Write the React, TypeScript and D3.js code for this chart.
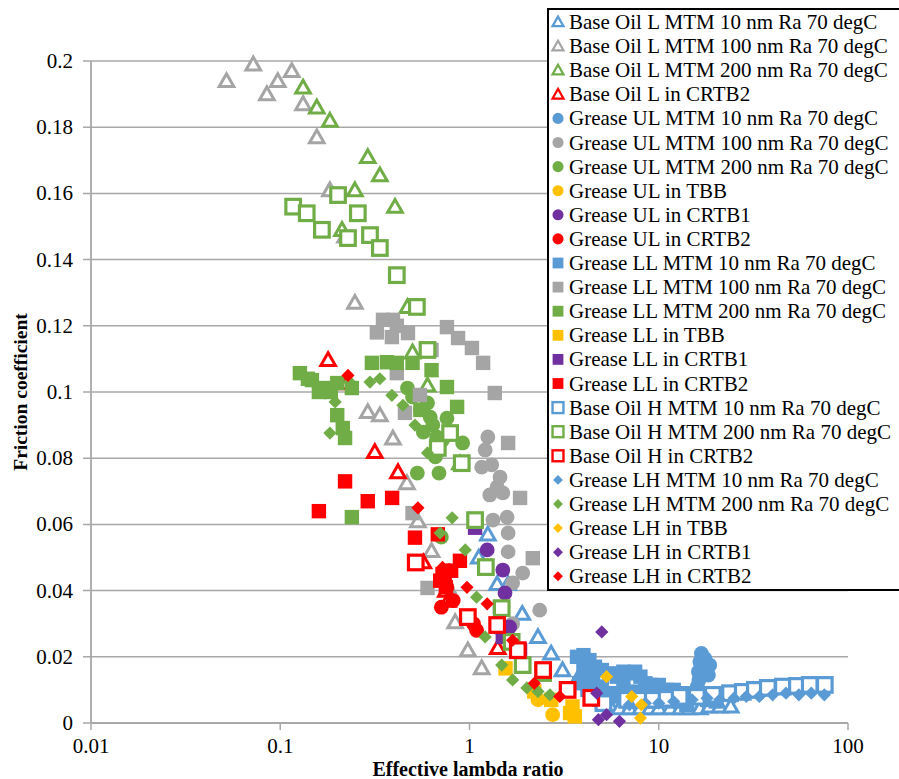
import React from 'react';
import * as d3 from 'd3';

// effective lambda ratio, friction coefficient
const baseOilL_MTM10 = [[1.12,0.05],[1.25,0.057],[1.4,0.042],[1.6,0.042],[1.9,0.033],[2.3,0.026],[2.7,0.021],[3.1,0.016],[3.7,0.013],[4.4,0.01],[5.0,0.007],[5.5,0.0055],[6.2,0.0045],[7.0,0.0045],[8.0,0.0045],[9.0,0.0045],[10,0.0045],[11.5,0.0045],[13,0.0045],[14.5,0.0045],[16.5,0.0045],[18.5,0.005],[21,0.005],[24,0.005],[9.5,0.0075],[11,0.008],[12.5,0.0075]];
const baseOilL_MTM100 = [[0.052,0.194],[0.072,0.199],[0.085,0.19],[0.097,0.194],[0.115,0.197],[0.132,0.187],[0.156,0.177],[0.183,0.161],[0.22,0.147],[0.248,0.127],[0.29,0.094],[0.336,0.093],[0.394,0.086],[0.467,0.0725],[0.534,0.061],[0.63,0.052],[0.77,0.041],[0.84,0.0305],[0.98,0.022],[1.16,0.0166]];
const baseOilL_MTM200 = [[0.132,0.192],[0.156,0.186],[0.183,0.182],[0.212,0.149],[0.248,0.161],[0.29,0.171],[0.336,0.1655],[0.404,0.156],[0.47,0.1257],[0.5,0.112],[0.6,0.102],[0.89,0.0785]];
const baseOilL_CRTB2 = [[0.179,0.1097],[0.225,0.1027],[0.316,0.0819],[0.419,0.0758],[0.57,0.0486],[0.75,0.04],[0.77,0.037],[1.41,0.0227]];
const greaseUL_MTM10 = [[16.8,0.021],[16.5,0.0185],[18.6,0.0175],[18.3,0.0145],[16.2,0.0155],[16.3,0.013],[16.0,0.011],[17.5,0.0195]];
const greaseUL_MTM100 = [[1.25,0.0864],[1.21,0.0825],[1.16,0.0773],[1.31,0.078],[1.45,0.0743],[1.4,0.0713],[1.28,0.0689],[1.5,0.0695],[1.33,0.0613],[1.58,0.0622],[1.6,0.0574],[1.6,0.0517],[1.91,0.0453],[1.69,0.0423],[2.35,0.0341],[1.69,0.03]];
const greaseUL_MTM200 = [[0.47,0.1012],[0.5,0.0985],[0.55,0.0946],[0.6,0.0967],[0.62,0.0924],[0.57,0.0879],[0.64,0.09],[0.67,0.0864],[0.76,0.0921],[0.72,0.0855],[0.92,0.0846],[0.53,0.0755],[0.69,0.0755],[0.66,0.0804],[0.71,0.0562]];
const greaseUL_TBB = [[2.75,0.0025],[2.3,0.007]];
const greaseUL_CRTB1 = [[1.24,0.0523],[1.5,0.0462],[1.54,0.0393],[1.63,0.029]];
const greaseUL_CRTB2 = [[0.71,0.035],[0.74,0.043],[0.76,0.041],[0.78,0.046],[1.05,0.03],[1.09,0.028],[0.82,0.037]];
const greaseLL_MTM10 = [[3.7,0.02],[4.0,0.0205],[4.3,0.019],[4.6,0.017],[5.0,0.016],[5.5,0.015],[6.0,0.014],[6.5,0.0155],[7.0,0.015],[7.5,0.0155],[8.0,0.014],[8.5,0.012],[9.0,0.0115],[9.5,0.011],[10,0.0115],[11,0.01],[12,0.01],[13,0.009],[14,0.009],[15,0.008],[16.5,0.008],[18,0.007],[20,0.0065],[4.0,0.016],[4.5,0.013],[5.0,0.011],[5.5,0.009],[6.0,0.008],[7.0,0.007],[8.0,0.009],[9.0,0.0065],[10,0.008],[12,0.0065],[14,0.0055],[3.8,0.012],[4.2,0.01],[4.6,0.008],[5.2,0.0065],[6.5,0.0115],[7.5,0.0095]];
const greaseLL_MTM100 = [[0.349,0.1218],[0.394,0.1218],[0.324,0.118],[0.389,0.1166],[0.473,0.1178],[0.413,0.12],[0.76,0.1196],[0.87,0.1163],[1.03,0.1133],[1.18,0.1088],[1.36,0.0997],[1.6,0.0846],[1.85,0.068],[2.16,0.0498],[0.413,0.1057],[0.547,0.0991],[0.456,0.0937],[0.5,0.0634],[0.6,0.0408],[0.63,0.1127]];
const greaseLL_MTM200 = [[0.127,0.1057],[0.147,0.1036],[0.172,0.1012],[0.2,0.1027],[0.239,0.1012],[0.2,0.093],[0.214,0.0891],[0.22,0.0861],[0.239,0.0622],[0.305,0.1088],[0.366,0.109],[0.413,0.1088],[0.5,0.1088],[0.63,0.1066],[0.76,0.1015],[0.86,0.0955],[0.55,0.0946],[0.14,0.104],[0.16,0.1],[0.185,0.1]];
const greaseLL_TBB = [[1.55,0.0165],[2.2,0.0095],[2.7,0.007],[3.5,0.005],[3.6,0.002],[3.4,0.003]];
const greaseLL_CRTB1 = [[1.07,0.059],[1.45,0.035],[1.47,0.029],[1.5,0.026],[1.85,0.022]];
const greaseLL_CRTB2 = [[0.16,0.064],[0.22,0.073],[0.29,0.067],[0.39,0.068],[0.515,0.056],[0.68,0.057],[0.89,0.049],[0.72,0.045],[0.75,0.041],[0.8,0.046],[0.7,0.043]];
const baseOilH_MTM10 = [[5.1,0.006],[6.8,0.007],[7.9,0.007],[9.3,0.007],[11,0.0073],[12.9,0.0079],[15.9,0.0079],[19.3,0.0085],[23.8,0.009],[27.8,0.0094],[32.2,0.01],[37.7,0.0106],[45.3,0.011],[53.7,0.0112],[62.8,0.0115],[75.4,0.0115]];
const baseOilH_MTM200 = [[0.117,0.156],[0.138,0.154],[0.166,0.149],[0.202,0.1595],[0.228,0.1465],[0.257,0.154],[0.298,0.1474],[0.336,0.1435],[0.413,0.1353],[0.527,0.1257],[0.6,0.1127],[0.79,0.0876],[0.68,0.0831],[0.91,0.0785],[1.07,0.0613],[1.22,0.0471],[1.48,0.0347],[1.67,0.0245],[1.91,0.0175],[2.45,0.0151]];
const baseOilH_CRTB2 = [[0.52,0.0485],[0.98,0.032],[1.4,0.0296],[1.8,0.022],[2.45,0.016],[3.3,0.01],[4.4,0.0076]];
const greaseLH_MTM10 = [[75,0.0085],[64,0.009],[55,0.0085],[47,0.009],[40,0.0085],[34,0.008],[29,0.008],[25,0.0075],[21,0.007],[18,0.0075],[15,0.007],[12,0.0065],[10,0.006],[8.5,0.006],[7,0.0055]];
const greaseLH_MTM200 = [[0.195,0.097],[0.183,0.0876],[0.233,0.103],[0.298,0.103],[0.336,0.104],[0.389,0.099],[0.445,0.096],[0.515,0.09],[0.6,0.0816],[0.81,0.062],[0.7,0.0574],[0.95,0.0523],[1.09,0.038],[1.21,0.026],[1.48,0.0175],[1.69,0.013],[2.01,0.0106],[2.3,0.0095],[2.66,0.0085]];
const greaseLH_TBB = [[5.3,0.014],[7.2,0.008],[8.1,0.0055],[8.0,0.0015]];
const greaseLH_CRTB1 = [[5.0,0.0275],[4.7,0.009],[4.8,0.001],[5.3,0.0025],[6.2,0.0005]];
const greaseLH_CRTB2 = [[0.228,0.105],[0.534,0.065],[0.72,0.047],[0.97,0.041],[1.24,0.036],[1.69,0.025],[2.2,0.012],[3.0,0.008]];

const yTicks = [0, 0.02, 0.04, 0.06, 0.08, 0.1, 0.12, 0.14, 0.16, 0.18, 0.2];
const xTicks = [0.01, 0.1, 1, 10, 100];

const BLUE = '#5B9BD5';
const GRAY = '#A5A5A5';
const GREEN = '#70AD47';
const RED = '#FF0000';
const GOLD = '#FFC000';
const PURPLE = '#7030A0';

const series = [
  { name: 'Base Oil L MTM 10 nm Ra 70 degC', data: baseOilL_MTM10, shape: 'tri', color: BLUE },
  { name: 'Base Oil L MTM 100 nm Ra 70 degC', data: baseOilL_MTM100, shape: 'tri', color: GRAY },
  { name: 'Base Oil L MTM 200 nm Ra 70 degC', data: baseOilL_MTM200, shape: 'tri', color: GREEN },
  { name: 'Base Oil L in CRTB2', data: baseOilL_CRTB2, shape: 'tri', color: RED },
  { name: 'Grease UL MTM 10 nm Ra 70 degC', data: greaseUL_MTM10, shape: 'circle', color: BLUE },
  { name: 'Grease UL MTM 100 nm Ra 70 degC', data: greaseUL_MTM100, shape: 'circle', color: GRAY },
  { name: 'Grease UL MTM 200 nm Ra 70 degC', data: greaseUL_MTM200, shape: 'circle', color: GREEN },
  { name: 'Grease UL in TBB', data: greaseUL_TBB, shape: 'circle', color: GOLD },
  { name: 'Grease UL in CRTB1', data: greaseUL_CRTB1, shape: 'circle', color: PURPLE },
  { name: 'Grease UL in CRTB2', data: greaseUL_CRTB2, shape: 'circle', color: RED },
  { name: 'Grease LL MTM 10 nm Ra 70 degC', data: greaseLL_MTM10, shape: 'square', color: BLUE },
  { name: 'Grease LL MTM 100 nm Ra 70 degC', data: greaseLL_MTM100, shape: 'square', color: GRAY },
  { name: 'Grease LL MTM 200 nm Ra 70 degC', data: greaseLL_MTM200, shape: 'square', color: GREEN },
  { name: 'Grease LL in TBB', data: greaseLL_TBB, shape: 'square', color: GOLD },
  { name: 'Grease LL in CRTB1', data: greaseLL_CRTB1, shape: 'square', color: PURPLE },
  { name: 'Grease LL in CRTB2', data: greaseLL_CRTB2, shape: 'square', color: RED },
  { name: 'Base Oil H MTM 10 nm Ra 70 degC', data: baseOilH_MTM10, shape: 'osquare', color: BLUE },
  { name: 'Base Oil H MTM 200 nm Ra 70 degC', data: baseOilH_MTM200, shape: 'osquare', color: GREEN },
  { name: 'Base Oil H in CRTB2', data: baseOilH_CRTB2, shape: 'osquare', color: RED },
  { name: 'Grease LH MTM 10 nm Ra 70 degC', data: greaseLH_MTM10, shape: 'diamond', color: BLUE },
  { name: 'Grease LH MTM 200 nm Ra 70 degC', data: greaseLH_MTM200, shape: 'diamond', color: GREEN },
  { name: 'Grease LH in TBB', data: greaseLH_TBB, shape: 'diamond', color: GOLD },
  { name: 'Grease LH in CRTB1', data: greaseLH_CRTB1, shape: 'diamond', color: PURPLE },
  { name: 'Grease LH in CRTB2', data: greaseLH_CRTB2, shape: 'diamond', color: RED },
];

const FONT = { fontFamily: "'Liberation Serif', 'Times New Roman', serif" };

function Marker({ shape, color, k = 1 }) {
  if (shape === 'tri') {
    const w = 7.3 * k;
    return (
      <path
        d={`M0,${-7.2 * k}L${w},${5.6 * k}L${-w},${5.6 * k}Z`}
        fill="#fff"
        stroke={color}
        strokeWidth={3 * k}
      />
    );
  }
  if (shape === 'circle') return <circle r={7.4 * k} fill={color} />;
  if (shape === 'square') {
    const h = 7.2 * k;
    return <rect x={-h} y={-h} width={2 * h} height={2 * h} fill={color} />;
  }
  if (shape === 'osquare') {
    const h = 7.3 * k;
    return (
      <rect x={-h} y={-h} width={2 * h} height={2 * h} fill="#fff" stroke={color} strokeWidth={3.2 * k} />
    );
  }
  const h = 6.6 * k;
  return <path d={`M0,${-h}L${h},0L0,${h}L${-h},0Z`} fill={color} />;
}

export default function App() {
  const x = d3.scaleLog().domain([0.01, 100]).range([91, 848]);
  const y = d3.scaleLinear().domain([0, 0.2]).range([723, 61]);
  const fmt = (v: number) => String(+v.toFixed(2));
  const legendTop = 22;
  const legendStep = 24.1;

  return (
    <svg
      width={899}
      height={779}
      style={{ position: 'absolute', left: 0, top: 0, background: '#fff' }}
    >
      {yTicks.map(t => (
        <g key={t}>
          <line x1={83} x2={848} y1={y(t)} y2={y(t)} stroke="#a8a8a8" strokeWidth={1.5} />
          <text x={73} y={y(t) + 7} textAnchor="end" fontSize={21} fill="#000" style={FONT}>
            {fmt(t)}
          </text>
        </g>
      ))}
      <line x1={91} x2={91} y1={61} y2={723} stroke="#a8a8a8" strokeWidth={1.8} />
      <line x1={91} x2={848} y1={723} y2={723} stroke="#a8a8a8" strokeWidth={1.8} />
      {xTicks.map(t => (
        <g key={t}>
          <line x1={x(t)} x2={x(t)} y1={723} y2={730} stroke="#a8a8a8" strokeWidth={1.5} />
          <text x={x(t)} y={753} textAnchor="middle" fontSize={21} fill="#000" style={FONT}>
            {fmt(t)}
          </text>
        </g>
      ))}

      {series.map(s => (
        <g key={s.name}>
          {s.data.map((d, i) => (
            <g key={i} transform={`translate(${x(d[0])},${y(d[1])})`}>
              <Marker shape={s.shape} color={s.color} />
            </g>
          ))}
        </g>
      ))}

      <text x={468} y={776} textAnchor="middle" fontSize={20} fontWeight="bold" style={FONT}>
        Effective lambda ratio
      </text>
      <text
        transform="translate(27,392) rotate(-90)"
        textAnchor="middle"
        fontSize={19.5}
        fontWeight="bold"
        style={FONT}
      >
        Friction coefficient
      </text>

      <rect x={548} y={9} width={360} height={581} fill="#fff" stroke="#000" strokeWidth={2} />
      {series.map((s, i) => {
        const cy = legendTop + i * legendStep;
        return (
          <g key={s.name}>
            <g transform={`translate(558,${cy})`}>
              <Marker shape={s.shape} color={s.color} k={0.75} />
            </g>
            <text x={569} y={cy + 7} fontSize={21} fill="#000" style={FONT}>
              {s.name}
            </text>
          </g>
        );
      })}
    </svg>
  );
}
